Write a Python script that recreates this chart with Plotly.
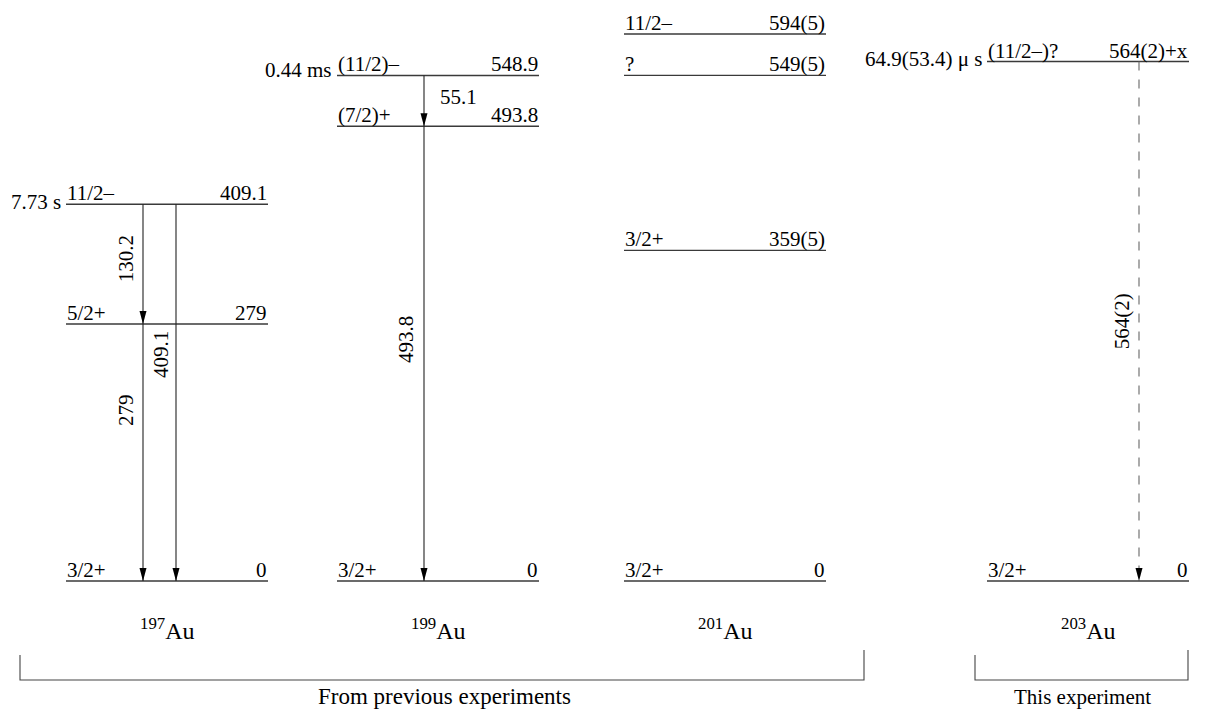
import plotly.graph_objects as go

# ---------------- data ----------------
isotopes = ["197", "199", "201", "203"]

level_iso = ["197", "197", "197",
             "199", "199", "199",
             "201", "201", "201", "201",
             "203", "203"]
level_energy = [0, 279, 409.1,
                0, 493.8, 548.9,
                0, 359, 549, 594,
                0, 564]
level_spin = ["3/2+", "5/2+", "11/2–",
              "3/2+", "(7/2)+", "(11/2)–",
              "3/2+", "3/2+", "?", "11/2–",
              "3/2+", "(11/2–)?"]
level_label = ["0", "279", "409.1",
               "0", "493.8", "548.9",
               "0", "359(5)", "549(5)", "594(5)",
               "0", "564(2)+x"]

halflife_iso = ["197", "199", "203"]
halflife_energy = [409.1, 548.9, 564]
halflife_text = ["7.73 s", "0.44 ms", "64.9(53.4) μ s"]

trans_iso = ["197", "197", "197", "199", "199", "203"]
trans_ei = [409.1, 279, 409.1, 548.9, 493.8, 564]
trans_ef = [279, 0, 0, 493.8, 0, 0]
trans_label = ["130.2", "279", "409.1", "55.1", "493.8", "564(2)"]
trans_dashed = [False, False, False, False, False, True]

groups = ["From previous experiments", "This experiment"]

# ---------------- layout / style ----------------
PAGE_W, PAGE_H = 1218, 718
BODY_MARGIN = 8                      # default page margin around the plot div
W, H = PAGE_W - 2 * BODY_MARGIN, PAGE_H - 2 * BODY_MARGIN
PX_PER_KEV = 0.921
Y_ZERO_PX = 581                      # page pixel of the 0 keV level
y_top = (Y_ZERO_PX - BODY_MARGIN) / PX_PER_KEV
y_bot = -(PAGE_H - BODY_MARGIN - Y_ZERO_PX) / PX_PER_KEV

col_x0 = {"197": 66, "199": 337, "201": 624, "203": 987}
col_w = 202
trans_x = [143, 143, 176, 424, 424, 1139]
label_frac = [0.46, 0.335, 0.40, 0.5, 0.47, 0.5]
label_rot = [True, True, True, False, True, True]
label_xshift = [-17, -17, -15, 14, -18, -17]
halflife_yshift = [2, 5, 3]

FONT = "Liberation Serif"
FS = 21
LEVEL_COLOR = "#3a3a3a"
ARROW_COLOR = "#222222"

fig = go.Figure()
fig.add_trace(go.Scatter(x=[BODY_MARGIN, PAGE_W - BODY_MARGIN], y=[y_bot, y_top], mode="markers",
                         marker=dict(opacity=0), hoverinfo="skip", showlegend=False))

shapes = []
annotations = []

# levels
for iso, e, sp, lab in zip(level_iso, level_energy, level_spin, level_label):
    x0 = col_x0[iso]
    x1 = x0 + col_w
    shapes.append(dict(type="line", xref="x", yref="y", x0=x0, x1=x1, y0=e, y1=e,
                       line=dict(color=LEVEL_COLOR, width=1.4)))
    annotations.append(dict(x=x0, y=e, xref="x", yref="y", text=sp, showarrow=False,
                            xanchor="left", yanchor="bottom", borderpad=0, yshift=-2,
                            font=dict(family=FONT, size=FS, color="black")))
    annotations.append(dict(x=x1, y=e, xref="x", yref="y", text=lab, showarrow=False,
                            xanchor="right", yanchor="bottom", borderpad=0, yshift=-2,
                            font=dict(family=FONT, size=FS, color="black")))

# half-lives
for iso, e, t, ys in zip(halflife_iso, halflife_energy, halflife_text, halflife_yshift):
    annotations.append(dict(x=col_x0[iso], y=e, xref="x", yref="y", text=t, showarrow=False,
                            xanchor="right", yanchor="middle", xshift=-3, yshift=ys,
                            font=dict(family=FONT, size=FS, color="black")))

# transitions
for i in range(len(trans_iso)):
    x = trans_x[i]
    ei, ef = trans_ei[i], trans_ef[i]
    shapes.append(dict(type="line", xref="x", yref="y", x0=x, x1=x, y0=ei, y1=ef,
                       line=dict(color="#666666" if trans_dashed[i] else ARROW_COLOR,
                                 width=1.1, dash="dash" if trans_dashed[i] else "solid")))
    shapes.append(dict(type="path", xref="x", yref="y", xsizemode="pixel", ysizemode="pixel",
                       xanchor=x, yanchor=ef, path="M -3.5 13 L 3.5 13 L 0 0 Z",
                       fillcolor="black", line=dict(width=0)))
    ly = ei - label_frac[i] * (ei - ef)
    if label_rot[i]:
        annotations.append(dict(x=x, y=ly, xref="x", yref="y", text=trans_label[i],
                                showarrow=False, textangle=-90, xanchor="center",
                                yanchor="middle", xshift=label_xshift[i],
                                font=dict(family=FONT, size=FS, color="black")))
    else:
        annotations.append(dict(x=x, y=ly, xref="x", yref="y", text=trans_label[i],
                                showarrow=False, xanchor="left", yanchor="middle",
                                xshift=label_xshift[i], yshift=4,
                                font=dict(family=FONT, size=FS, color="black")))

# isotope names
def py(p):
    """page pixel row -> paper fraction"""
    return 1 - (p - BODY_MARGIN) / H

for iso in isotopes:
    annotations.append(dict(x=col_x0[iso] + col_w / 2, y=py(629), xref="x", yref="paper",
                            text=f"<sup>{iso}</sup>Au", showarrow=False,
                            xanchor="center", yanchor="middle",
                            font=dict(family=FONT, size=24, color="black")))

# brackets
brackets = [(20, 864, 655, 650), (975, 1188, 655, 650)]
bracket_bottom = 680
group_x = [444, 1082]
group_fs = [23, 21]
for (xa, xb, ta, tb), g, gx, gfs in zip(brackets, groups, group_x, group_fs):
    shapes.append(dict(type="path", xref="x", yref="paper",
                       path=f"M {xa} {py(ta)} L {xa} {py(bracket_bottom)} L {xb} {py(bracket_bottom)} L {xb} {py(tb)}",
                       line=dict(color="#444444", width=1.1)))
    annotations.append(dict(x=gx, y=py(710), xref="x", yref="paper", text=g, showarrow=False,
                            xanchor="center", yanchor="bottom", yshift=-1,
                            font=dict(family=FONT, size=gfs, color="black")))

fig.update_layout(
    width=W, height=H,
    margin=dict(l=0, r=0, t=0, b=0),
    paper_bgcolor="white", plot_bgcolor="white",
    xaxis=dict(range=[BODY_MARGIN, PAGE_W - BODY_MARGIN], visible=False, fixedrange=True),
    yaxis=dict(range=[y_bot, y_top], visible=False, fixedrange=True),
    shapes=shapes, annotations=annotations, showlegend=False,
)

fig.write_html("out.html")
